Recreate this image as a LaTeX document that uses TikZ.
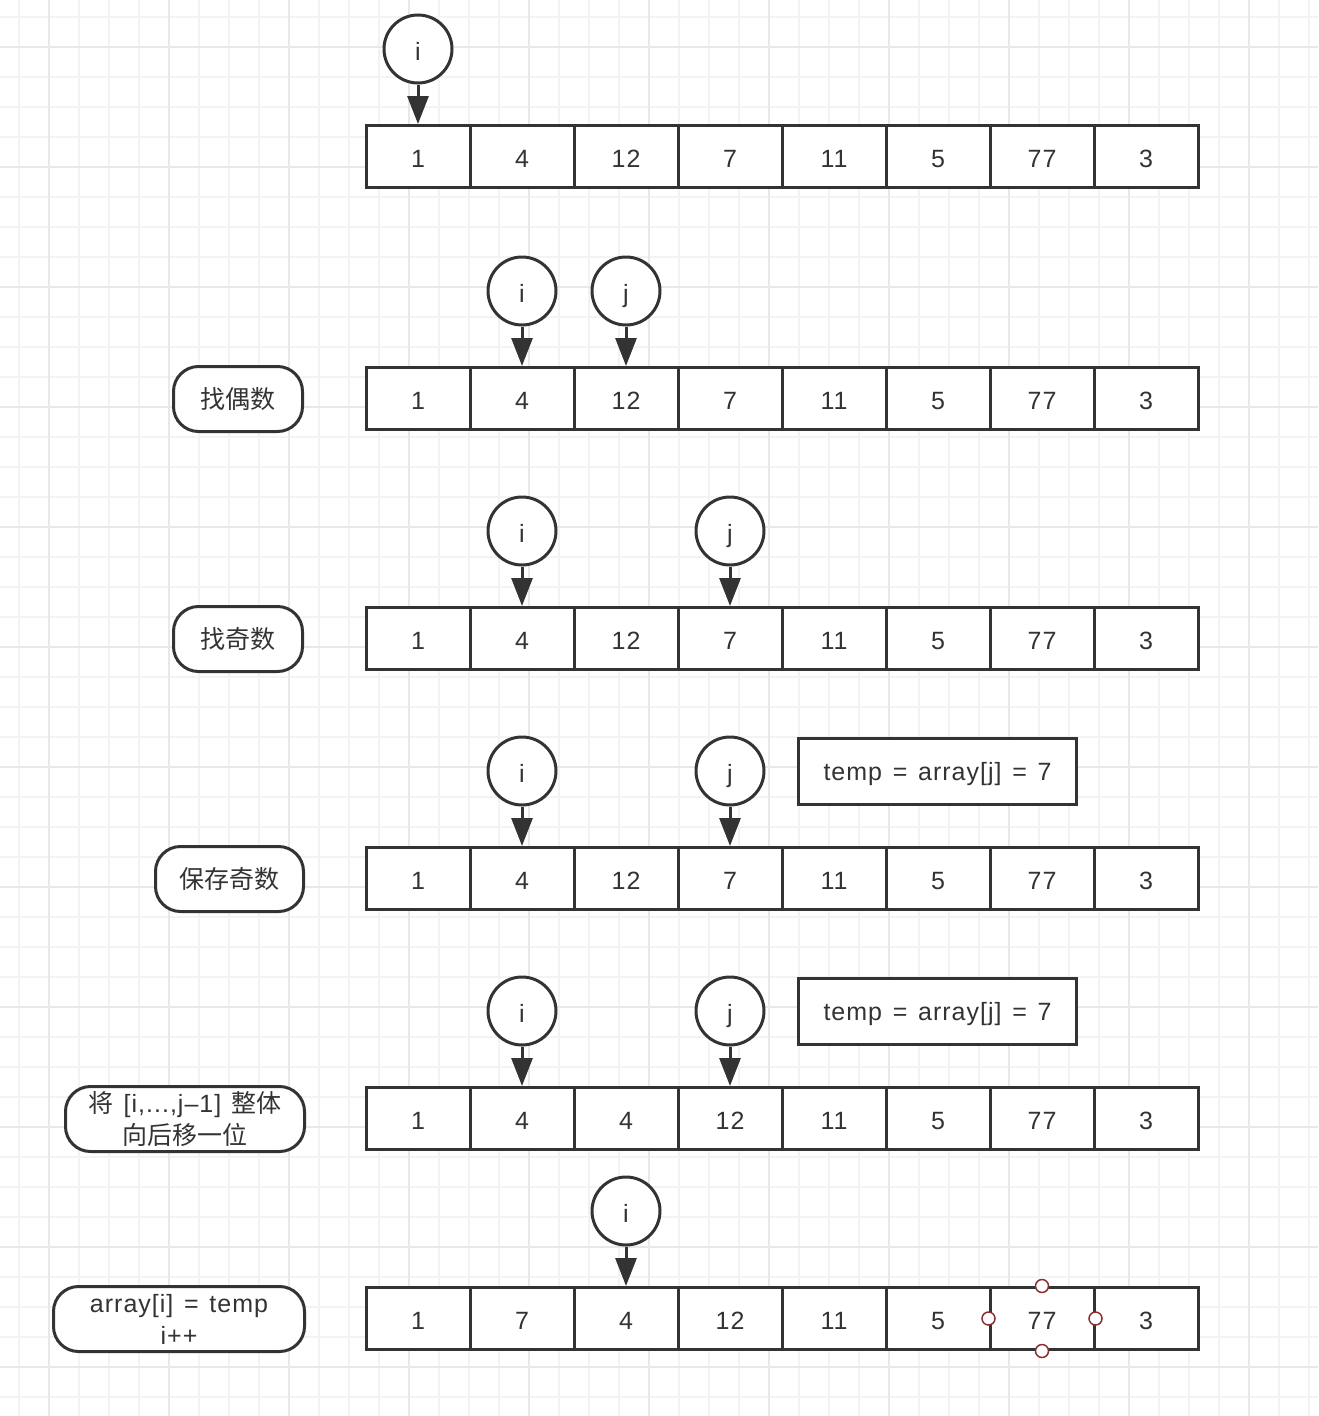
\documentclass[tikz,border=0pt]{standalone}
\usepackage{fontspec}
\setmainfont{Liberation Sans}[LetterSpace=4, WordSpace=1.35]
\newfontfamily\cjk{Noto Sans CJK SC}
\usetikzlibrary{arrows.meta}
\definecolor{ink}{HTML}{333333}
\definecolor{gridminor}{HTML}{F3F3F3}
\definecolor{gridmajor}{HTML}{E8E8E8}
\definecolor{handlecol}{HTML}{8B2E2E}
\tikzset{
  txt/.style={font=\fontsize{25}{32}\selectfont, text=ink},
  cell/.style={txt, draw=ink, line width=3pt, fill=white, minimum width=104pt, minimum height=62pt, inner sep=0pt, text height=22pt, text depth=1pt},
  ptr/.style={txt, draw=ink, line width=3pt, fill=white, circle, minimum size=68pt, inner sep=0pt, text height=22pt, text depth=0pt},
  ptrarrow/.style={draw=ink, line width=3pt, -{Triangle[length=28pt,width=21pt]}},
  pill/.style={txt, draw=ink, line width=3pt, fill=white, rounded corners=25pt, minimum height=65pt, inner sep=0pt, align=center},
  tbox/.style={txt, draw=ink, line width=3pt, fill=white, minimum width=278pt, minimum height=66pt, inner sep=0pt, text height=22pt, text depth=4pt},
  handle/.style={circle, draw=handlecol, line width=1.5pt, fill=white, minimum size=13pt, inner sep=0pt}
}
\begin{document}
\begin{tikzpicture}[x=1pt,y=-1pt]
\useasboundingbox (0,0) rectangle (1318,1416);
\fill[white] (0,0) rectangle (1318,1416);
% grid
\foreach \k in {0,...,43} {
  \draw[gridminor, line width=2pt] ({19+30*\k},0) -- ({19+30*\k},1416);
}
\foreach \k in {0,...,46} {
  \draw[gridminor, line width=2pt] (0,{17+30*\k}) -- (1318,{17+30*\k});
}
\foreach \k in {0,...,10} {
  \draw[gridmajor, line width=2pt] ({49+120*\k},0) -- ({49+120*\k},1416);
}
\foreach \k in {0,...,11} {
  \draw[gridmajor, line width=2pt] (0,{47+120*\k}) -- (1318,{47+120*\k});
}
% arrays
\foreach \row/\yy/\vals in {
  1/156.5/{1,4,12,7,11,5,77,3},
  2/398.5/{1,4,12,7,11,5,77,3},
  3/638.5/{1,4,12,7,11,5,77,3},
  4/878.5/{1,4,12,7,11,5,77,3},
  5/1118.5/{1,4,4,12,11,5,77,3},
  6/1318.5/{1,7,4,12,11,5,77,3}} {
  \foreach \v [count=\c] in \vals {
    \node[cell] (r\row-\c) at ({418+104*(\c-1)},\yy) {\v};
  }
}
% pointers
\node[ptr] (p1i) at (418,49) {i};
\node[ptr] (p2i) at (522,291) {i};
\node[ptr] (p2j) at (626,291) {j};
\node[ptr] (p3i) at (522,531) {i};
\node[ptr] (p3j) at (730,531) {j};
\node[ptr] (p4i) at (522,771) {i};
\node[ptr] (p4j) at (730,771) {j};
\node[ptr] (p5i) at (522,1011) {i};
\node[ptr] (p5j) at (730,1011) {j};
\node[ptr] (p6i) at (626,1211) {i};
\draw[ptrarrow] (p1i) -- (r1-1.north);
\draw[ptrarrow] (p2i) -- (r2-2.north);
\draw[ptrarrow] (p2j) -- (r2-3.north);
\draw[ptrarrow] (p3i) -- (r3-2.north);
\draw[ptrarrow] (p3j) -- (r3-4.north);
\draw[ptrarrow] (p4i) -- (r4-2.north);
\draw[ptrarrow] (p4j) -- (r4-4.north);
\draw[ptrarrow] (p5i) -- (r5-2.north);
\draw[ptrarrow] (p5j) -- (r5-4.north);
\draw[ptrarrow] (p6i) -- (r6-3.north);
% temp boxes
\node[tbox] (t4) at (937.5,771.5) {temp = array[j] = 7};
\node[tbox] (t5) at (937.5,1011.5) {temp = array[j] = 7};
% labels
\node[pill, minimum width=129pt] (l2) at (238,399) {\cjk 找偶数};
\node[pill, minimum width=129pt] (l3) at (238,639) {\cjk 找奇数};
\node[pill, minimum width=148pt] (l4) at (229.5,879) {\cjk 保存奇数};
\node[pill, minimum width=239pt] (l5) at (185,1119) {{\cjk 将} [i,...,j–1] {\cjk 整体}\\{\cjk 向后移一位}};
\node[pill, minimum width=251pt] (l6) at (179,1319) {array[i] = temp\\i++};
% selection handles
\node[handle] (h1) at (r6-7.north) {};
\node[handle] (h2) at (r6-7.west) {};
\node[handle] (h3) at (r6-7.east) {};
\node[handle] (h4) at (r6-7.south) {};
\end{tikzpicture}
\end{document}
